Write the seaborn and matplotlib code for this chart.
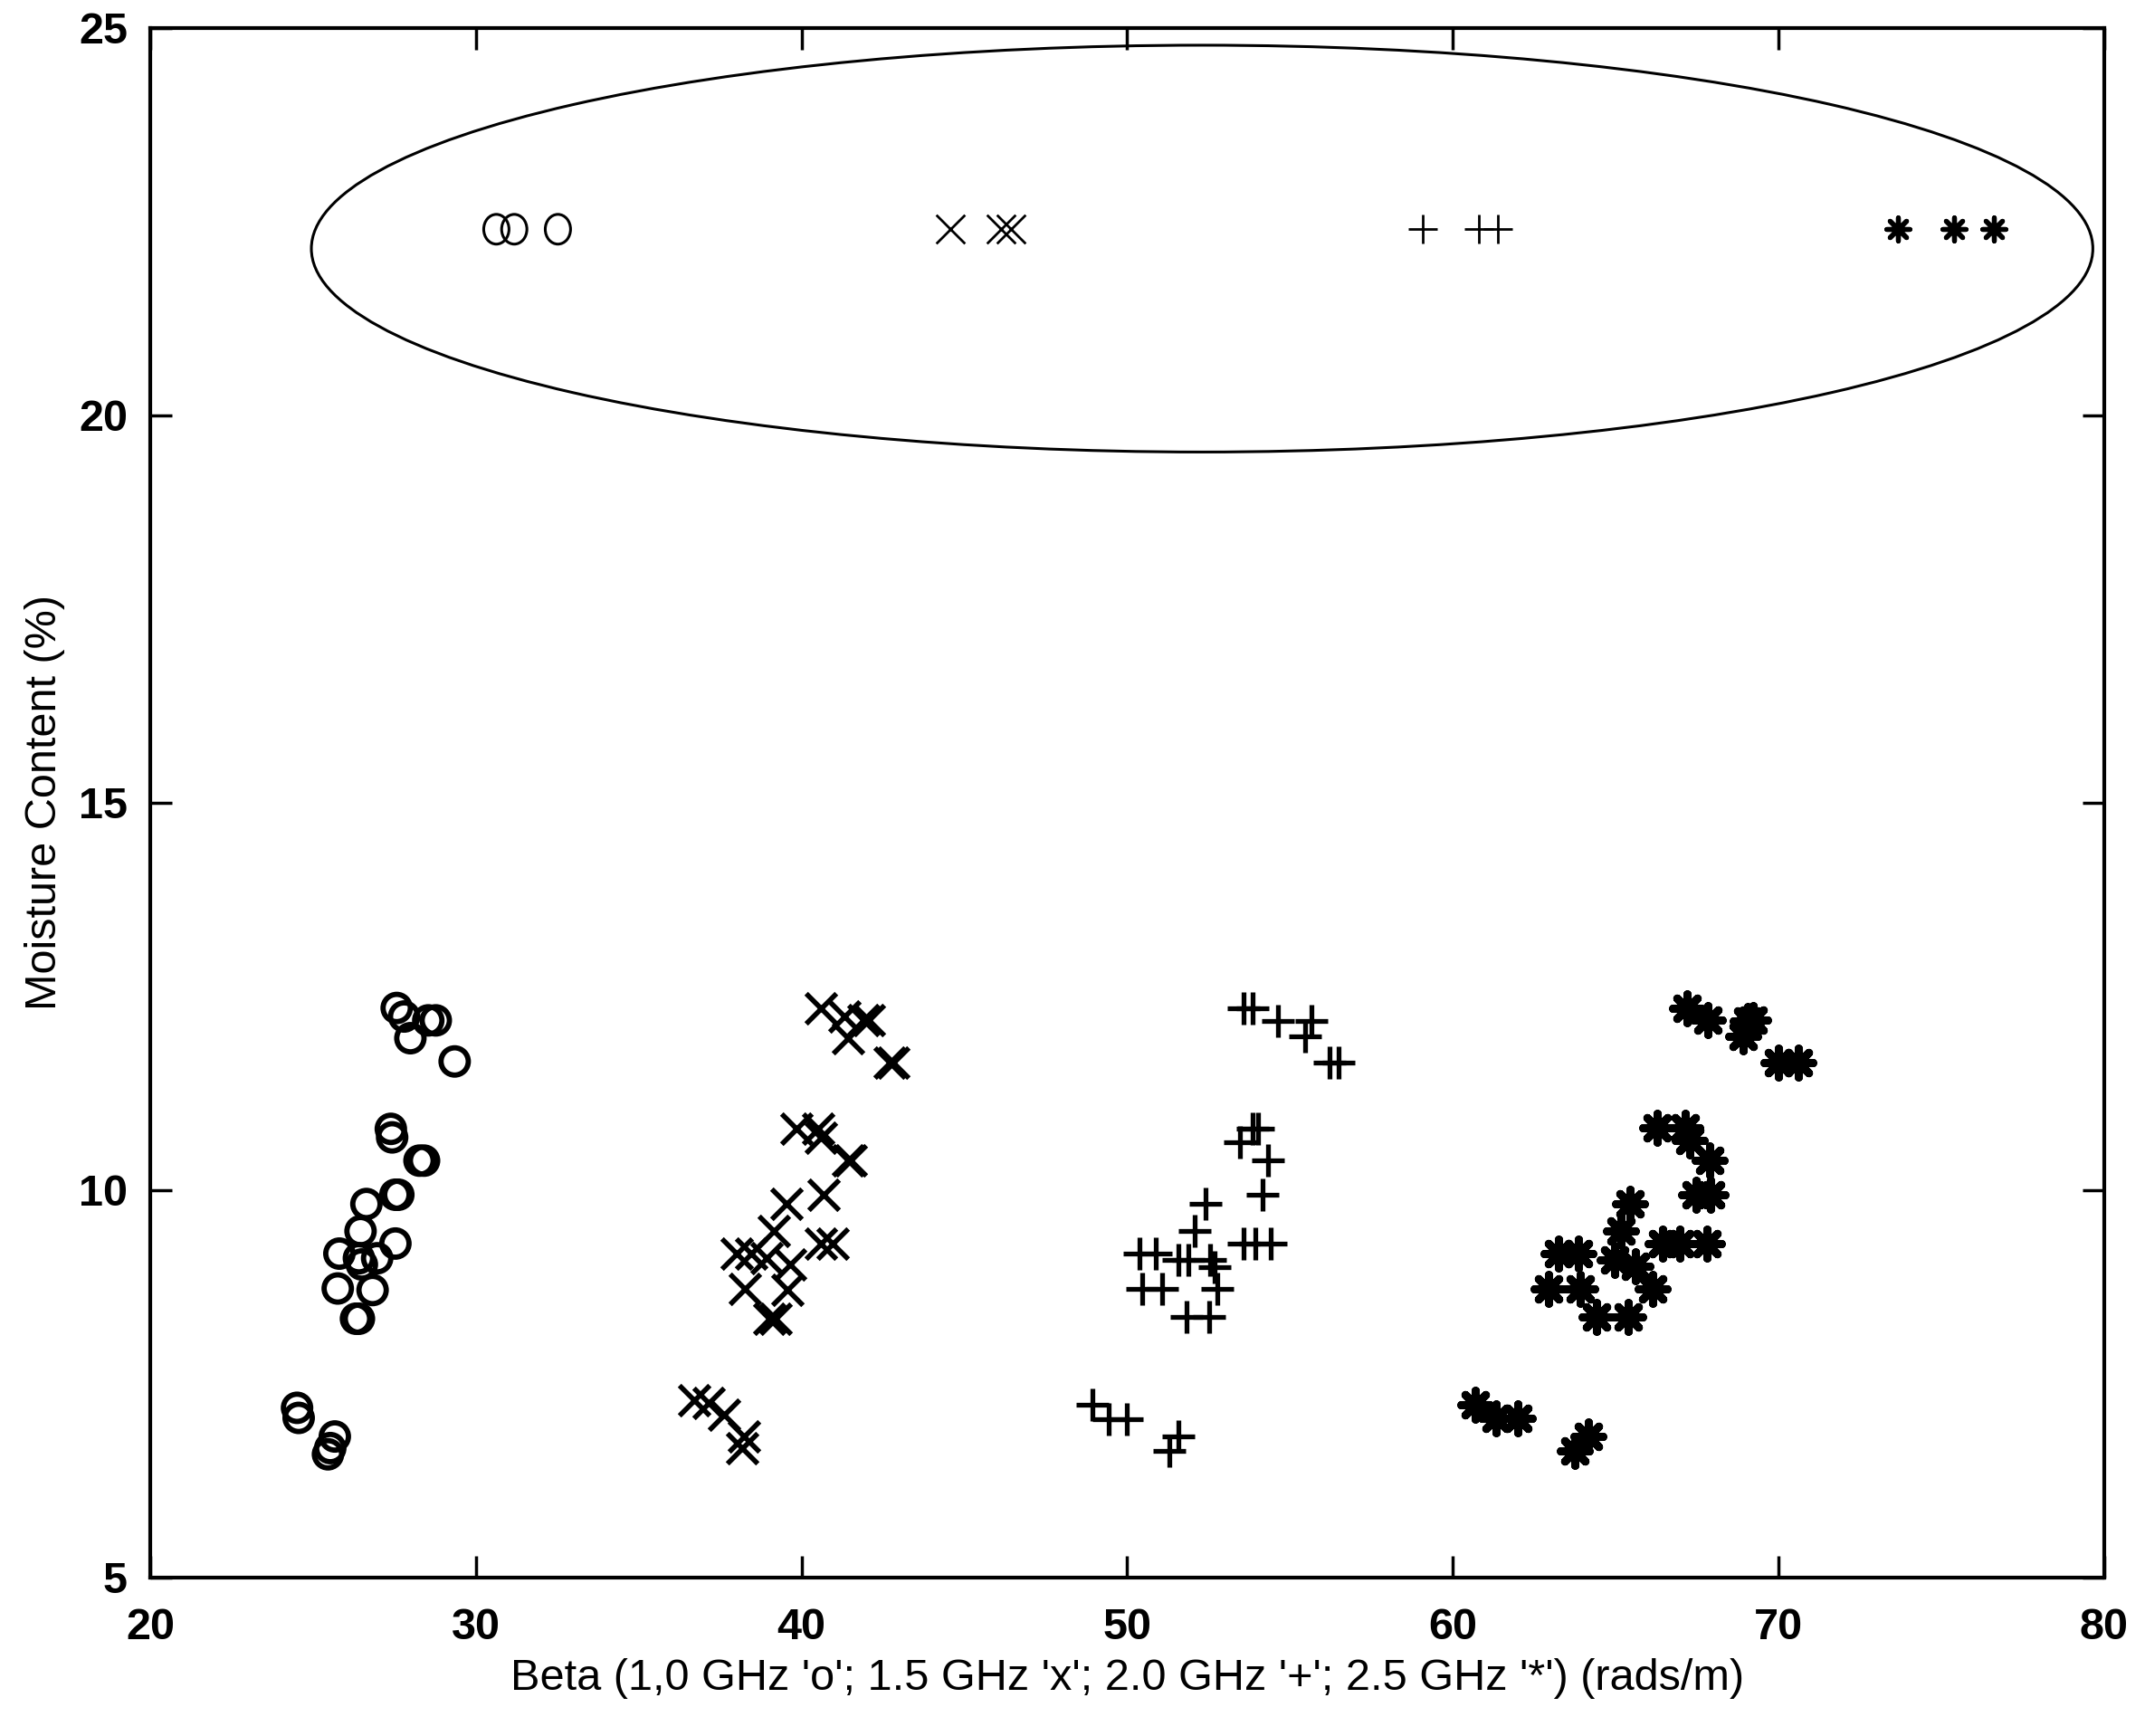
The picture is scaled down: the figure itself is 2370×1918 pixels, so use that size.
import matplotlib
matplotlib.use("Agg")
import matplotlib.pyplot as plt
from matplotlib.patches import Ellipse
from matplotlib.path import Path
import seaborn as sns
import pandas as pd

# ---- data ----
o_beta = [27.57, 27.80, 28.54, 28.77, 27.99, 29.35, 27.39, 27.43, 28.27, 28.41, 27.53, 27.62,
          26.64, 26.46, 27.53, 25.81, 26.41, 26.97, 26.50, 25.76, 26.83, 26.32, 26.41,
          24.51, 24.56, 25.67, 25.53, 25.46]
o_moist = [12.35, 12.24, 12.19, 12.19, 11.96, 11.66, 10.79, 10.68, 10.38, 10.38, 9.94, 9.94,
           9.82, 9.47, 9.31, 9.18, 9.12, 9.12, 9.04, 8.73, 8.71, 8.34, 8.34,
           7.19, 7.06, 6.82, 6.67, 6.59]

x_beta = [40.59, 41.33, 41.89, 42.07, 41.43, 42.72, 42.82, 39.85, 40.50, 40.59, 41.43, 41.52,
          40.68, 39.53, 39.15, 40.59, 40.96, 38.00, 38.46, 38.92, 39.66, 38.27, 39.57, 39.01, 39.20,
          36.70, 37.16, 37.63, 38.23, 38.18]
x_moist = [12.35, 12.24, 12.19, 12.19, 11.96, 11.65, 11.65, 10.79, 10.79, 10.68, 10.38, 10.38,
           9.94, 9.82, 9.47, 9.31, 9.31, 9.18, 9.18, 9.12, 9.04, 8.73, 8.71, 8.34, 8.34,
           7.29, 7.25, 7.10, 6.82, 6.67]

p_beta = [53.56, 53.84, 54.63, 55.65, 55.47, 56.20, 56.50, 53.84, 54.03, 53.47, 54.31, 54.17,
          52.41, 52.08, 53.56, 53.93, 54.40, 50.37, 50.88, 51.57, 51.89, 52.54, 52.68,
          50.46, 51.07, 52.78, 51.83, 52.52, 48.93, 49.44, 50.00, 51.57, 51.30]
p_moist = [12.35, 12.35, 12.18, 12.18, 11.98, 11.65, 11.65, 10.79, 10.79, 10.62, 10.38, 9.94,
           9.82, 9.47, 9.31, 9.31, 9.31, 9.18, 9.18, 9.10, 9.10, 9.10, 9.00,
           8.73, 8.73, 8.73, 8.36, 8.36, 7.23, 7.04, 7.04, 6.82, 6.63]

s_beta = [67.19, 67.84, 69.04, 69.23, 68.90, 70.01, 70.61, 66.26, 67.14, 67.28, 67.88, 67.46,
          67.92, 65.43, 65.15, 66.45, 66.96, 67.79, 63.25, 63.85, 64.96, 65.61, 62.93, 63.90,
          66.12, 64.41, 65.38, 60.70, 61.34, 61.99, 64.16, 63.75]
s_moist = [12.35, 12.19, 12.18, 12.19, 11.98, 11.65, 11.65, 10.80, 10.80, 10.64, 10.38, 9.94,
           9.94, 9.82, 9.47, 9.31, 9.31, 9.31, 9.18, 9.18, 9.10, 9.02, 8.73, 8.73,
           8.73, 8.36, 8.36, 7.23, 7.06, 7.06, 6.82, 6.63]

# outlier samples circled by the ellipse
out_moist = 22.4
o_out_beta = [30.63, 31.18, 32.52]
x_out_beta = [44.58, 46.13, 46.43]
p_out_beta = [59.08, 60.80, 61.39]
s_out_beta = [73.66, 75.38, 76.60]

x_ticks = [20, 30, 40, 50, 60, 70, 80]
y_ticks = [5, 10, 15, 20, 25]
x_label = "Beta (1,0 GHz 'o'; 1.5 GHz 'x'; 2.0 GHz '+'; 2.5 GHz '*') (rads/m)"
y_label = "Moisture Content (%)"

# ---- figure ----
sns.set_theme(style="white")
plt.rcParams['font.family'] = ['Liberation Sans', 'DejaVu Sans']

fig = plt.figure(figsize=(23.7, 19.18), dpi=100)
ax = fig.add_axes([0.070, 0.0913, 0.911, 0.8927])

star = (8, 2, 0)
uc = Path.unit_circle()
oval = Path(uc.vertices * [0.85, 1.0], uc.codes)

def df(b, m):
    return pd.DataFrame({"beta": b, "moist": m})

# main clusters (bold)
sns.scatterplot(data=df(o_beta, o_moist), x="beta", y="moist", marker="o", s=470,
                facecolors="none", edgecolor="black", linewidth=4.2, ax=ax, zorder=3)
sns.scatterplot(data=df(x_beta, x_moist), x="beta", y="moist", marker="x", s=580,
                color="black", linewidth=4.0, ax=ax, zorder=3)
sns.scatterplot(data=df(p_beta, p_moist), x="beta", y="moist", marker="+", s=640,
                color="black", linewidth=3.8, ax=ax, zorder=3)
sns.scatterplot(data=df(s_beta, s_moist), x="beta", y="moist", marker=star, s=520,
                color="black", linewidth=6.5, ax=ax, zorder=3)

# outliers (thin)
sns.scatterplot(data=df(o_out_beta, [out_moist] * 3), x="beta", y="moist", marker=oval, s=560,
                facecolors="none", edgecolor="black", linewidth=2.2, ax=ax, zorder=3)
sns.scatterplot(data=df(x_out_beta, [out_moist] * 3), x="beta", y="moist", marker="x", s=520,
                color="black", linewidth=2.0, ax=ax, zorder=3)
sns.scatterplot(data=df(p_out_beta, [out_moist] * 3), x="beta", y="moist", marker="+", s=520,
                color="black", linewidth=2.0, ax=ax, zorder=3)
sns.scatterplot(data=df(s_out_beta, [out_moist] * 3), x="beta", y="moist", marker=star, s=340,
                color="black", linewidth=3.8, ax=ax, zorder=3)

ell = Ellipse((52.3, 22.15), width=54.7, height=5.25, fill=False, edgecolor="black",
              linewidth=2.2, zorder=2)
ax.add_patch(ell)

ax.set_xlim(20, 80)
ax.set_ylim(5, 25)
ax.set_xticks(x_ticks)
ax.set_yticks(y_ticks)
ax.set_xticklabels([str(t) for t in x_ticks], fontsize=35, fontweight="bold")
ax.set_yticklabels([str(t) for t in y_ticks], fontsize=35, fontweight="bold")
ax.tick_params(direction="in", length=17, width=2.5, top=True, right=True,
               bottom=True, left=True, colors="black")
ax.tick_params(axis="x", pad=24)
ax.tick_params(axis="y", pad=18)
for sp in ax.spines.values():
    sp.set_visible(True)
    sp.set_color("black")
    sp.set_linewidth(3.0)
ax.set_xlabel(x_label, fontsize=35, color="black")
ax.set_ylabel(y_label, fontsize=35, color="black")
ax.xaxis.set_label_coords(0.5, -0.052)
ax.yaxis.set_label_coords(-0.0435, 0.5)
ax.grid(False)
ax.set_facecolor("white")

fig.savefig("out.png", dpi=100, facecolor="white")
